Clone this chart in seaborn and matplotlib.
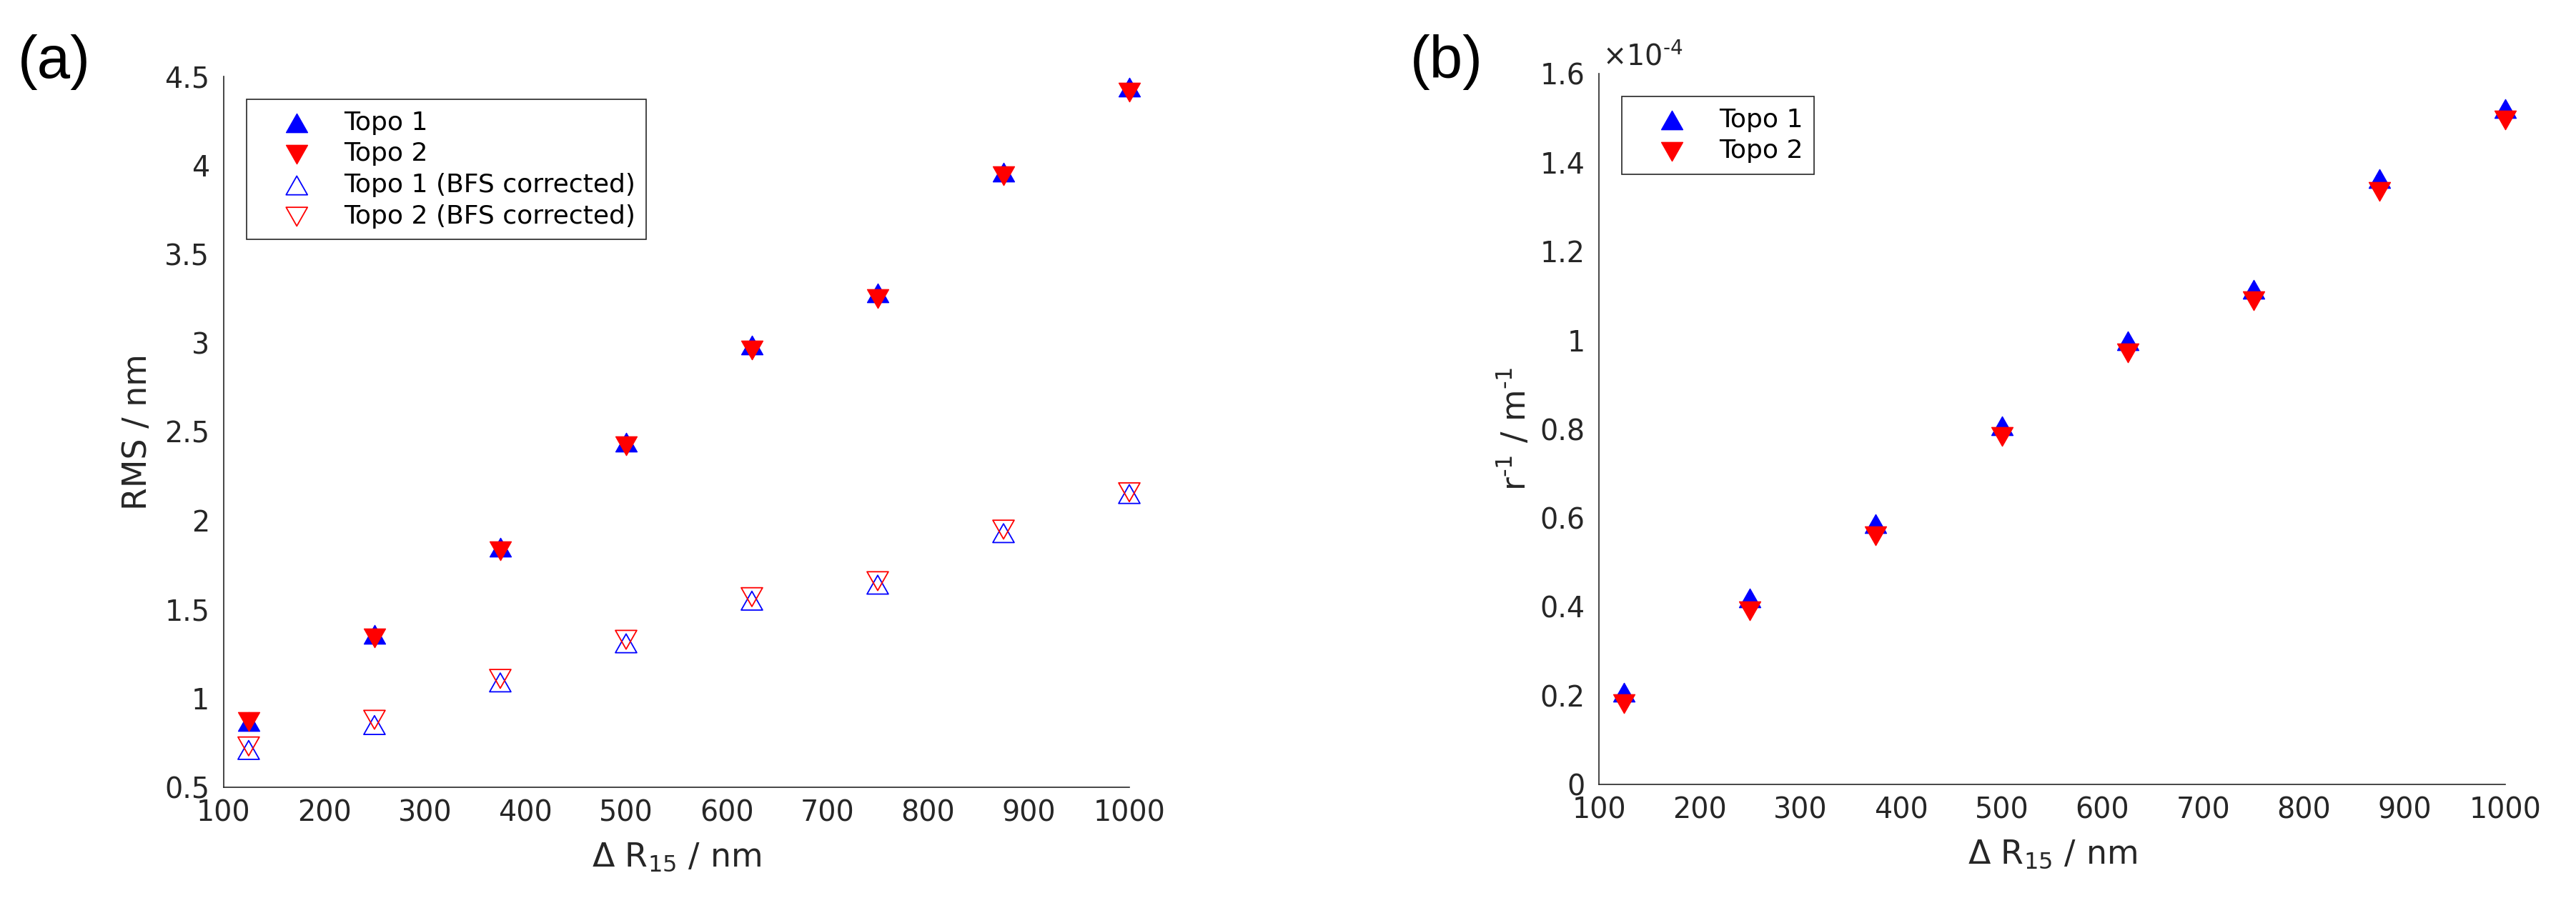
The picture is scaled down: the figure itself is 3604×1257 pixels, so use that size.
import numpy as np
import pandas as pd
import matplotlib
matplotlib.use("Agg")
import matplotlib.pyplot as plt
import seaborn as sns
from matplotlib.path import Path
from matplotlib.ticker import FuncFormatter

# ---------------- data ----------------
delta_r15 = [125, 250, 375, 500, 625, 750, 875, 1000]
rms_topo1 = [0.87, 1.36, 1.85, 2.44, 2.99, 3.28, 3.96, 4.44]
rms_topo2 = [0.87, 1.34, 1.83, 2.42, 2.96, 3.25, 3.94, 4.41]
rms_topo1_bfs = [0.71, 0.85, 1.09, 1.31, 1.55, 1.64, 1.93, 2.15]
rms_topo2_bfs = [0.73, 0.88, 1.11, 1.33, 1.57, 1.66, 1.95, 2.16]
rinv_topo1 = [0.208e-4, 0.419e-4, 0.587e-4, 0.808e-4, 0.999e-4, 1.114e-4, 1.363e-4, 1.521e-4]
rinv_topo2 = [0.181e-4, 0.391e-4, 0.560e-4, 0.783e-4, 0.972e-4, 1.088e-4, 1.335e-4, 1.495e-4]

labels_a = ["Topo 1", "Topo 2", "Topo 1 (BFS corrected)", "Topo 2 (BFS corrected)"]
labels_b = ["Topo 1", "Topo 2"]
xticks = [100, 200, 300, 400, 500, 600, 700, 800, 900, 1000]
yticks_a = [0.5, 1, 1.5, 2, 2.5, 3, 3.5, 4, 4.5]
yticks_b = [0, 0.2e-4, 0.4e-4, 0.6e-4, 0.8e-4, 1.0e-4, 1.2e-4, 1.4e-4, 1.6e-4]

# ---------------- style ----------------
sns.set_theme(style="white")
plt.rcParams["font.family"] = ["DejaVu Sans"]
plt.rcParams["mathtext.fontset"] = "dejavusans"
DARK = "#262626"
BLUE = (0, 0, 1)
RED = (1, 0, 0)
MS = 21.5      # marker width in points
LW = 1.0
TICK_FS = 28.5
LABEL_FS = 33
LEG_FS = 26

UP = Path([(-1, -0.88), (1, -0.88), (0, 0.88), (-1, -0.88)], closed=True)
DOWN = Path([(-1, 0.88), (1, 0.88), (0, -0.88), (-1, 0.88)], closed=True)

fig = plt.figure(figsize=(36.04, 12.57), dpi=100)
W, H = 3604, 1257


def axes_from_px(x0, x1, top, bottom):
    return fig.add_axes([x0 / W, 1 - bottom / H, (x1 - x0) / W, (bottom - top) / H])


axA = axes_from_px(312.7, 1580, 107, 1102)
axB = axes_from_px(2237, 3505, 103, 1098)


def draw(ax, x, y, marker, color, filled, label):
    df = pd.DataFrame({"x": x, "y": y})
    if filled:
        sns.scatterplot(data=df, x="x", y="y", ax=ax, marker=marker, s=MS ** 2,
                        color=color, edgecolor=color, linewidth=LW, label=label,
                        zorder=3, legend=False, clip_on=False)
    else:
        sns.scatterplot(data=df, x="x", y="y", ax=ax, marker=marker, s=MS ** 2,
                        facecolors="none", edgecolor=color, linewidth=LW * 1.3,
                        label=label, zorder=3, legend=False, clip_on=False)


draw(axA, delta_r15, rms_topo1, UP, BLUE, True, labels_a[0])
draw(axA, delta_r15, rms_topo2, DOWN, RED, True, labels_a[1])
draw(axA, delta_r15, rms_topo1_bfs, UP, BLUE, False, labels_a[2])
draw(axA, delta_r15, rms_topo2_bfs, DOWN, RED, False, labels_a[3])

draw(axB, delta_r15, rinv_topo1, UP, BLUE, True, labels_b[0])
draw(axB, delta_r15, rinv_topo2, DOWN, RED, True, labels_b[1])

fmt = FuncFormatter(lambda v, p: f"{v:g}")
fmtB = FuncFormatter(lambda v, p: f"{round(v * 1e4, 6):g}")

for ax in (axA, axB):
    ax.set_xlim(100, 1000)
    ax.set_xticks(xticks)
    ax.xaxis.set_major_formatter(fmt)
    for s in ("top", "right"):
        ax.spines[s].set_visible(False)
    for s in ("left", "bottom"):
        ax.spines[s].set_color(DARK)
        ax.spines[s].set_linewidth(1.2)
    ax.tick_params(axis="both", direction="in", length=9.4, width=1.2,
                   color=DARK, labelcolor=DARK, labelsize=TICK_FS)
    ax.tick_params(axis="x", pad=12)
    ax.tick_params(axis="y", pad=14)
    ax.set_xlabel(r"$\Delta$ R$_{15}$ / nm", fontsize=LABEL_FS, color=DARK)
    ax.xaxis.set_label_coords(0.5, -0.098)
    ax.xaxis.label.set_va("center")

axA.set_ylim(0.5, 4.5)
axA.set_yticks(yticks_a)
axA.yaxis.set_major_formatter(fmt)
axA.set_ylabel("RMS / nm", fontsize=LABEL_FS, color=DARK)
axA.yaxis.set_label_coords(-0.095, 0.5)
axA.yaxis.label.set_va("center")

axB.set_ylim(0, 1.6e-4)
axB.set_yticks(yticks_b)
axB.yaxis.set_major_formatter(fmtB)
axB.set_ylabel(r"r$^{\text{-}1}$ / m$^{\text{-}1}$", fontsize=LABEL_FS, color=DARK)
axB.yaxis.set_label_coords(-0.092, 0.5)
axB.yaxis.label.set_va("center")
axB.text(0.004, 1.0 + 11 / 995, r"$\times$10$^{\text{-}4}$", transform=axB.transAxes,
         ha="left", va="baseline", fontsize=TICK_FS, color=DARK)

leg_kw = dict(loc="upper left", fontsize=LEG_FS, frameon=True, fancybox=False,
              framealpha=1, edgecolor=DARK, borderpad=0.43, labelspacing=0.27,
              handlelength=3.03, handletextpad=0.3, borderaxespad=0,
              scatterpoints=1)
legA = axA.legend(bbox_to_anchor=((345 - 312.7) / 1267.3, (1102 - 139) / 995), **leg_kw)
legB = axB.legend(bbox_to_anchor=((2269 - 2237) / 1268, (1098 - 135) / 995), **leg_kw)
for leg in (legA, legB):
    leg.get_frame().set_linewidth(1.2)
    for t in leg.get_texts():
        t.set_color("black")

fig.text(25 / W, 1 - 48 / H, "(a)", fontsize=60, family="Liberation Sans",
         ha="left", va="top", color="black")
fig.text(1973 / W, 1 - 48 / H, "(b)", fontsize=60, family="Liberation Sans",
         ha="left", va="top", color="black")

fig.savefig("out.png", dpi=100, facecolor="white")
